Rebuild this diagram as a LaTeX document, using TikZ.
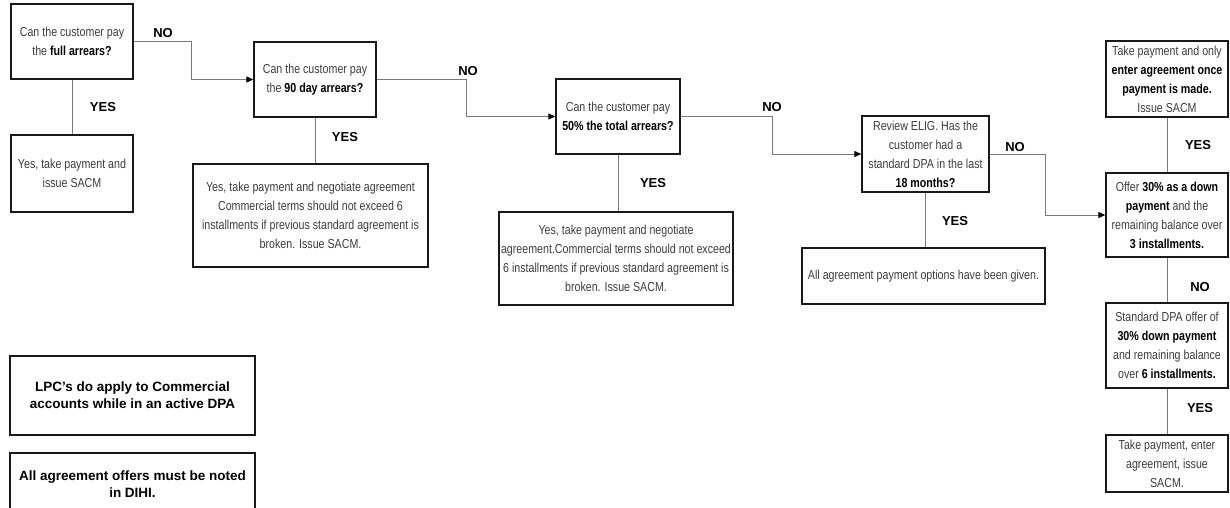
\documentclass[tikz,border=0pt]{standalone}
\usepackage{fontspec}
\setmainfont{Liberation Sans}
\newfontfamily\narrow[FakeStretch=0.82]{Liberation Sans}
\usetikzlibrary{arrows.meta}
\definecolor{bodytext}{HTML}{3C3C3C}
\definecolor{wire}{HTML}{7A7A7A}
\tikzset{
  box/.style={draw=black!90, line width=1.4pt, align=center, inner sep=0pt,
    font=\narrow\fontsize{13}{19}\selectfont, text=bodytext},
  note/.style={draw=black!90, line width=1.4pt, align=center, inner sep=0pt,
    font=\bfseries\fontsize{13.5}{17}\selectfont, text=black},
  lbl/.style={font=\bfseries\fontsize{13}{15}\selectfont, text=black, inner sep=0pt},
  wireline/.style={draw=wire, line width=1pt},
  arr/.style={wireline, -{Triangle[length=7pt,width=6pt,fill=black,color=black]}},
}
\begin{document}
\begin{tikzpicture}[x=1pt,y=-1pt]
\useasboundingbox (0,0) rectangle (1230,508);

% question chain
\node[box, minimum width=122pt, minimum height=75pt] (A) at (72,41.5)
  {Can the customer pay\\the \textbf{\color{black}full arrears?}};
\node[box, minimum width=122pt, minimum height=77pt] (Ay) at (72,173.5)
  {Yes, take payment and\\issue SACM};
\node[box, minimum width=122pt, minimum height=75pt] (B) at (315,79.5)
  {Can the customer pay\\the \textbf{\color{black}90 day arrears?}};
\node[box, minimum width=235pt, minimum height=103pt] (By) at (310.5,215.5)
  {Yes, take payment and negotiate agreement\\Commercial terms should not exceed 6\\installments if previous standard agreement is\\broken. Issue SACM.};
\node[box, minimum width=124pt, minimum height=75pt] (C) at (618,116.5)
  {Can the customer pay\\\textbf{\color{black}50\% the total arrears?}};
\node[box, minimum width=234pt, minimum height=93pt] (Cy) at (616,258.5)
  {Yes, take payment and negotiate\\agreement.Commercial terms should not exceed\\6 installments if previous standard agreement is\\broken. Issue SACM.};
\node[box, minimum width=127pt, minimum height=76pt] (D) at (925.5,154)
  {Review ELIG. Has the\\customer had a\\standard DPA in the last\\\textbf{\color{black}18 months?}};
\node[box, minimum width=243pt, minimum height=56pt] (Dy) at (923.5,276)
  {All agreement payment options have been given.};

% right-hand column
\node[box, minimum width=122pt, minimum height=76pt] (E0) at (1167,79)
  {Take payment and only\\\textbf{\color{black}enter agreement once}\\\textbf{\color{black}payment is made.}\\Issue SACM};
\node[box, minimum width=122pt, minimum height=84pt] (E) at (1167,215)
  {Offer \textbf{\color{black}30\% as a down}\\\textbf{\color{black}payment} and the\\remaining balance over\\\textbf{\color{black}3 installments.}};
\node[box, minimum width=122pt, minimum height=85pt] (F) at (1167,345.5)
  {Standard DPA offer of\\\textbf{\color{black}30\% down payment}\\and remaining balance\\over \textbf{\color{black}6 installments.}};
\node[box, minimum width=122pt, minimum height=57pt] (G) at (1167,463.5)
  {Take payment, enter\\agreement, issue\\SACM.};

% notes
\node[note, minimum width=245pt, minimum height=79pt] (N1) at (132.5,395.5)
  {LPC's do apply to Commercial\\accounts while in an active DPA};
\node[note, minimum width=245pt, minimum height=62pt] (N2) at (132.5,484)
  {All agreement offers must be noted\\in DIHI.};

% NO branches
\draw[arr] (A.east) -- ++(58,0) |- (B.west);
\draw[arr] (B.east) -- ++(90,0) |- (C.west);
\draw[arr] (C.east) -- ++(92,0) |- (D.west);
\draw[arr] (D.east) -- ++(56,0) |- (E.west);
\draw[wireline] (E.south) -- (F.north);

% YES branches
\draw[wireline] (A.south) -- (Ay.north);
\draw[wireline] (B.south) -- (B.south |- By.north);
\draw[wireline] (C.south) -- (C.south |- Cy.north);
\draw[wireline] (D.south) -- (D.south |- Dy.north);
\draw[wireline] (E.north) -- (E0.south);
\draw[wireline] (F.south) -- (G.north);

% branch labels
\node[lbl] (no1) at (163,33) {NO};
\node[lbl] (no2) at (468,71) {NO};
\node[lbl] (no3) at (772,107) {NO};
\node[lbl] (no4) at (1015,147) {NO};
\node[lbl] (no5) at (1200,287) {NO};
\node[lbl] (yes1) at (103,107) {YES};
\node[lbl] (yes2) at (345,137) {YES};
\node[lbl] (yes3) at (653,183) {YES};
\node[lbl] (yes4) at (955,221) {YES};
\node[lbl] (yes5) at (1198,145) {YES};
\node[lbl] (yes6) at (1200,408) {YES};
\end{tikzpicture}
\end{document}
